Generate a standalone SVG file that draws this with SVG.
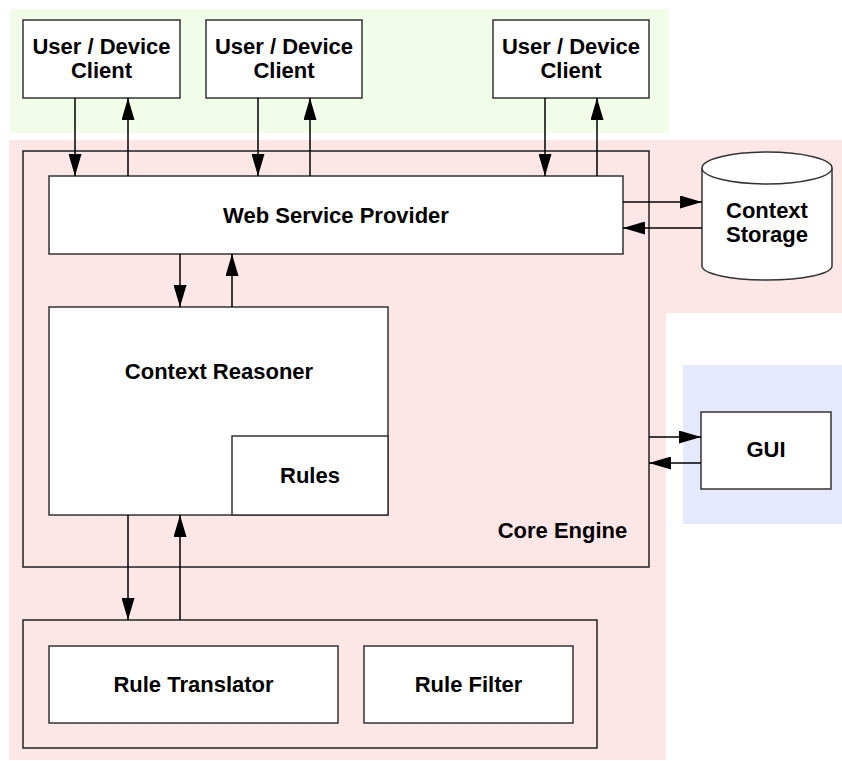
<svg xmlns="http://www.w3.org/2000/svg" width="842" height="761" viewBox="0 0 842 761">
  <defs>
    <marker id="arrow" viewBox="0 0 22 13" refX="22" refY="6.5" markerWidth="22" markerHeight="13" markerUnits="userSpaceOnUse" orient="auto">
      <path d="M0,0 L22,6.5 L0,13 Z" fill="#000"/>
    </marker>
    <style>
      .box { fill: #fff; stroke: #333; stroke-width: 1.5; }
      .frame { fill: none; stroke: #222; stroke-width: 1.5; }
      .lbl { font-family: "Liberation Sans", Arial, sans-serif; font-weight: bold; font-size: 22px; fill: #000; text-anchor: middle; }
      .conn { stroke: #000; stroke-width: 1.5; fill: none; marker-end: url(#arrow); }
    </style>
  </defs>

  <!-- background zones -->
  <g id="zones">
    <rect x="10" y="9" width="659" height="124" fill="#f2fde9"/>
    <path d="M9,140 H842 V313 H666 V760 H9 Z" fill="#fde6e6"/>
    <rect x="683" y="365" width="159" height="159" fill="#e6e8fd"/>
  </g>

  <g id="client-1">
    <rect class="box" x="23" y="20" width="157" height="78"/>
    <text class="lbl" x="101.5" y="54">User / Device</text>
    <text class="lbl" x="101.5" y="78">Client</text>
  </g>
  <g id="client-2">
    <rect class="box" x="206" y="20" width="156" height="78"/>
    <text class="lbl" x="284" y="54">User / Device</text>
    <text class="lbl" x="284" y="78">Client</text>
  </g>
  <g id="client-3">
    <rect class="box" x="493" y="20" width="156" height="78"/>
    <text class="lbl" x="571" y="54">User / Device</text>
    <text class="lbl" x="571" y="78">Client</text>
  </g>

  <g id="core-engine">
    <rect class="frame" x="23" y="151" width="626" height="416"/>
    <text class="lbl" x="562.5" y="538">Core Engine</text>
  </g>

  <g id="web-service-provider">
    <rect class="box" x="49" y="176" width="574" height="78"/>
    <text class="lbl" x="336" y="223">Web Service Provider</text>
  </g>

  <g id="context-storage">
    <path class="box" d="M702,168 A65,16 0 0 1 832,168 V266 A65,14 0 0 1 702,266 Z"/>
    <path class="box" d="M702,168 A65,16 0 0 0 832,168" fill="none"/>
    <text class="lbl" x="767" y="218">Context</text>
    <text class="lbl" x="767" y="242">Storage</text>
  </g>

  <g id="context-reasoner">
    <rect class="box" x="49" y="307" width="339" height="208"/>
    <text class="lbl" x="219" y="379">Context Reasoner</text>
  </g>
  <g id="rules">
    <rect class="box" x="232" y="436" width="156" height="79"/>
    <text class="lbl" x="310" y="483">Rules</text>
  </g>

  <g id="gui">
    <rect class="box" x="701" y="412" width="130" height="77"/>
    <text class="lbl" x="766" y="457">GUI</text>
  </g>

  <g id="rule-module">
    <rect class="frame" x="23" y="620" width="574" height="128"/>
  </g>
  <g id="rule-translator">
    <rect class="box" x="49" y="646" width="289" height="77"/>
    <text class="lbl" x="193.5" y="692">Rule Translator</text>
  </g>
  <g id="rule-filter">
    <rect class="box" x="364" y="646" width="209" height="77"/>
    <text class="lbl" x="468.5" y="692">Rule Filter</text>
  </g>

  <g id="connectors">
    <!-- clients <-> web service provider -->
    <line class="conn" x1="75" y1="98" x2="75" y2="176"/>
    <line class="conn" x1="128" y1="176" x2="128" y2="98"/>
    <line class="conn" x1="258" y1="98" x2="258" y2="176"/>
    <line class="conn" x1="310" y1="176" x2="310" y2="98"/>
    <line class="conn" x1="545" y1="98" x2="545" y2="176"/>
    <line class="conn" x1="597" y1="176" x2="597" y2="98"/>
    <!-- web service provider <-> context storage -->
    <line class="conn" x1="623" y1="202" x2="702" y2="202"/>
    <line class="conn" x1="702" y1="228" x2="623" y2="228"/>
    <!-- web service provider <-> context reasoner -->
    <line class="conn" x1="180" y1="254" x2="180" y2="307"/>
    <line class="conn" x1="232" y1="307" x2="232" y2="254"/>
    <!-- context reasoner <-> rule module -->
    <line class="conn" x1="128" y1="515" x2="128" y2="620"/>
    <line class="conn" x1="180" y1="620" x2="180" y2="515"/>
    <!-- core engine <-> gui -->
    <line class="conn" x1="649" y1="437" x2="701" y2="437"/>
    <line class="conn" x1="701" y1="463" x2="649" y2="463"/>
  </g>
</svg>
